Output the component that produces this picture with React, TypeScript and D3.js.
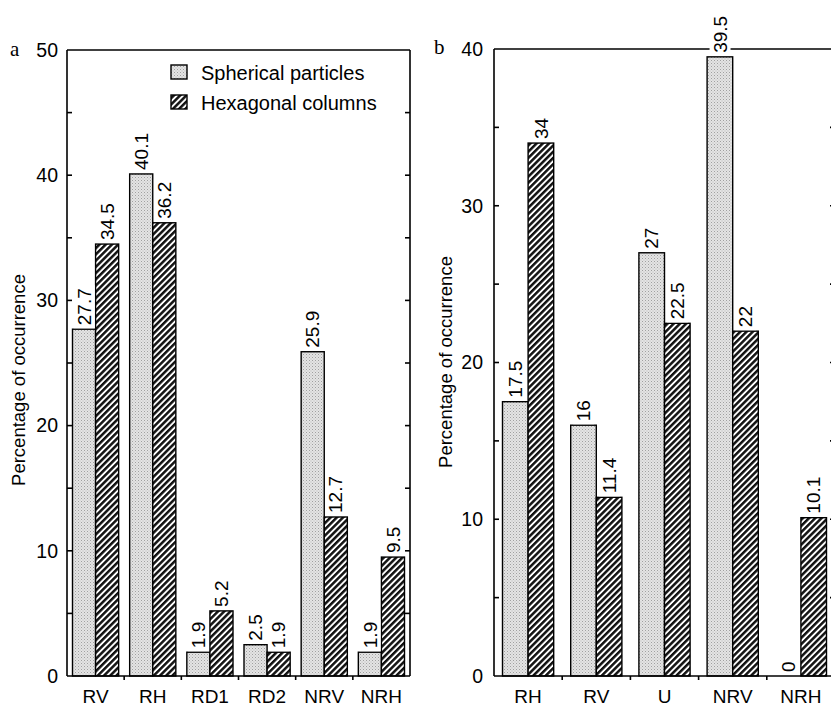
import React, { useRef, useEffect } from 'react';
import * as d3 from 'd3';

const categoriesA = ['RV', 'RH', 'RD1', 'RD2', 'NRV', 'NRH'];
const sphericalA = [27.7, 40.1, 1.9, 2.5, 25.9, 1.9];
const hexagonalA = [34.5, 36.2, 5.2, 1.9, 12.7, 9.5];
const ticksA = [0, 10, 20, 30, 40, 50];

const categoriesB = ['RH', 'RV', 'U', 'NRV', 'NRH'];
const sphericalB = [17.5, 16, 27, 39.5, 0];
const hexagonalB = [34, 11.4, 22.5, 22, 10.1];
const ticksB = [0, 10, 20, 30, 40];

const seriesNames = ['Spherical particles', 'Hexagonal columns'];
const FONT = 'Liberation Sans, Arial, Helvetica, sans-serif';

export default function App() {
  const ref = useRef(null);

  useEffect(() => {
    const svg = d3.select(ref.current);
    svg.selectAll('*').remove();

    // fills: stippled gray + diagonal hatch
    const defs = svg.append('defs');
    const dots = defs.append('pattern').attr('id', 'dots')
      .attr('width', 3).attr('height', 3).attr('patternUnits', 'userSpaceOnUse');
    dots.append('rect').attr('width', 3).attr('height', 3).attr('fill', '#e4e4e4');
    dots.append('rect').attr('x', 0).attr('y', 0).attr('width', 1).attr('height', 1).attr('fill', '#a0a0a0');
    dots.append('rect').attr('x', 1.5).attr('y', 1.5).attr('width', 1).attr('height', 1).attr('fill', '#b8b8b8');

    const hatch = defs.append('pattern').attr('id', 'hatch')
      .attr('width', 4.4).attr('height', 4.4).attr('patternUnits', 'userSpaceOnUse')
      .attr('patternTransform', 'rotate(45)');
    hatch.append('rect').attr('width', 4.4).attr('height', 4.4).attr('fill', '#fff');
    hatch.append('rect').attr('width', 2.5).attr('height', 4.4).attr('fill', '#111');

    const fills = ['url(#dots)', 'url(#hatch)'];

    function panel(opts) {
      const { cats, s1, s2, ticks, x0, x1, yTop, yMax, pad, labelGap, letter, letterX, letterY, titleX, titleY, right } = opts;
      const y0 = 676;
      const y = d3.scaleLinear().domain([0, yMax]).range([y0, yTop]);
      const x = d3.scaleBand().domain(cats).range([x0, x1]).padding(0);
      const inner = d3.scaleBand().domain(['s', 'h'])
        .range([pad, x.bandwidth() - pad]).padding(0);

      const g = svg.append('g');
      const rows = cats.map((c, i) => ({ c, v: [s1[i], s2[i]] }));

      // bars
      rows.forEach(r => {
        r.v.forEach((v, k) => {
          const bx = x(r.c) + inner(k === 0 ? 's' : 'h');
          g.append('rect')
            .attr('x', bx).attr('y', y(v))
            .attr('width', inner.bandwidth()).attr('height', y0 - y(v))
            .attr('fill', fills[k]).attr('stroke', '#000').attr('stroke-width', 1.4);
        });
      });

      // frame
      const frame = g.append('g').attr('stroke', '#000').attr('stroke-width', 1.6).attr('fill', 'none');
      frame.append('line').attr('x1', x0).attr('x2', x0).attr('y1', yTop).attr('y2', y0);
      frame.append('line').attr('x1', x0).attr('x2', x1).attr('y1', y0).attr('y2', y0);
      frame.append('line').attr('x1', x0).attr('x2', x1).attr('y1', yTop).attr('y2', yTop);
      frame.append('line').attr('x1', right).attr('x2', right).attr('y1', yTop).attr('y2', y0);

      // y ticks every 5, inward on both sides
      d3.range(5, yMax, 5).forEach(t => {
        frame.append('line').attr('x1', x0).attr('x2', x0 + 5).attr('y1', y(t)).attr('y2', y(t));
        frame.append('line').attr('x1', right).attr('x2', right - 5).attr('y1', y(t)).attr('y2', y(t));
      });
      // category boundary ticks
      cats.forEach((c, i) => {
        if (i === 0) return;
        frame.append('line').attr('x1', x(c)).attr('x2', x(c)).attr('y1', y0).attr('y2', y0 + 4);
      });

      // y tick labels
      g.selectAll('.yt').data(ticks).enter().append('text')
        .attr('x', x0 - labelGap).attr('y', d => y(d)).attr('dy', '0.35em')
        .attr('text-anchor', 'end').attr('font-family', FONT).attr('font-size', 19.5)
        .text(d => d);

      // category labels
      g.selectAll('.xt').data(cats).enter().append('text')
        .attr('x', d => x(d) + x.bandwidth() / 2).attr('y', 703)
        .attr('text-anchor', 'middle').attr('font-family', FONT).attr('font-size', 19)
        .text(d => d);

      // value labels, rotated, with white backing
      rows.forEach(r => {
        r.v.forEach((v, k) => {
          const cx = x(r.c) + inner(k === 0 ? 's' : 'h') + inner.bandwidth() / 2;
          const lg = g.append('g').attr('transform', `translate(${cx},${y(v) - 4}) rotate(-90)`);
          const bg = lg.append('rect').attr('fill', '#fff');
          const t = lg.append('text').attr('x', 0).attr('y', 0).attr('dy', '0.35em')
            .attr('font-family', FONT).attr('font-size', 19).text(v);
          const bb = t.node().getBBox();
          bg.attr('x', bb.x - 3).attr('y', bb.y).attr('width', bb.width + 6).attr('height', bb.height);
        });
      });

      // axis title
      g.append('text')
        .attr('transform', `translate(${titleX},${titleY}) rotate(-90)`)
        .attr('text-anchor', 'middle').attr('dy', '0.35em')
        .attr('font-family', FONT).attr('font-size', 18.5)
        .text('Percentage of occurrence');

      // panel letter
      g.append('text').attr('x', letterX).attr('y', letterY)
        .attr('font-family', 'Liberation Serif, Times New Roman, serif').attr('font-size', 21)
        .text(letter);
    }

    panel({
      cats: categoriesA, s1: sphericalA, s2: hexagonalA, ticks: ticksA,
      x0: 67, x1: 410, right: 410, yTop: 50, yMax: 50, pad: 5.5, labelGap: 9,
      letter: 'a', letterX: 10, letterY: 56, titleX: 19, titleY: 380
    });
    panel({
      cats: categoriesB, s1: sphericalB, s2: hexagonalB, ticks: ticksB,
      x0: 494, x1: 835, right: 835, yTop: 49, yMax: 40, pad: 8.5, labelGap: 11,
      letter: 'b', letterX: 434, letterY: 54, titleX: 446, titleY: 362
    });

    // legend
    const leg = svg.append('g');
    seriesNames.forEach((n, i) => {
      const ly = 65 + i * 30;
      leg.append('rect').attr('x', 171).attr('y', ly).attr('width', 16).attr('height', 14)
        .attr('fill', fills[i]).attr('stroke', '#000').attr('stroke-width', 1.4);
      leg.append('text').attr('x', 201).attr('y', ly + 8).attr('dy', '0.35em')
        .attr('font-family', FONT).attr('font-size', 20).text(n);
    });
  }, []);

  return (
    <svg ref={ref} width={831} height={709}
      style={{ position: 'absolute', left: 0, top: 0, background: '#fff' }} />
  );
}
